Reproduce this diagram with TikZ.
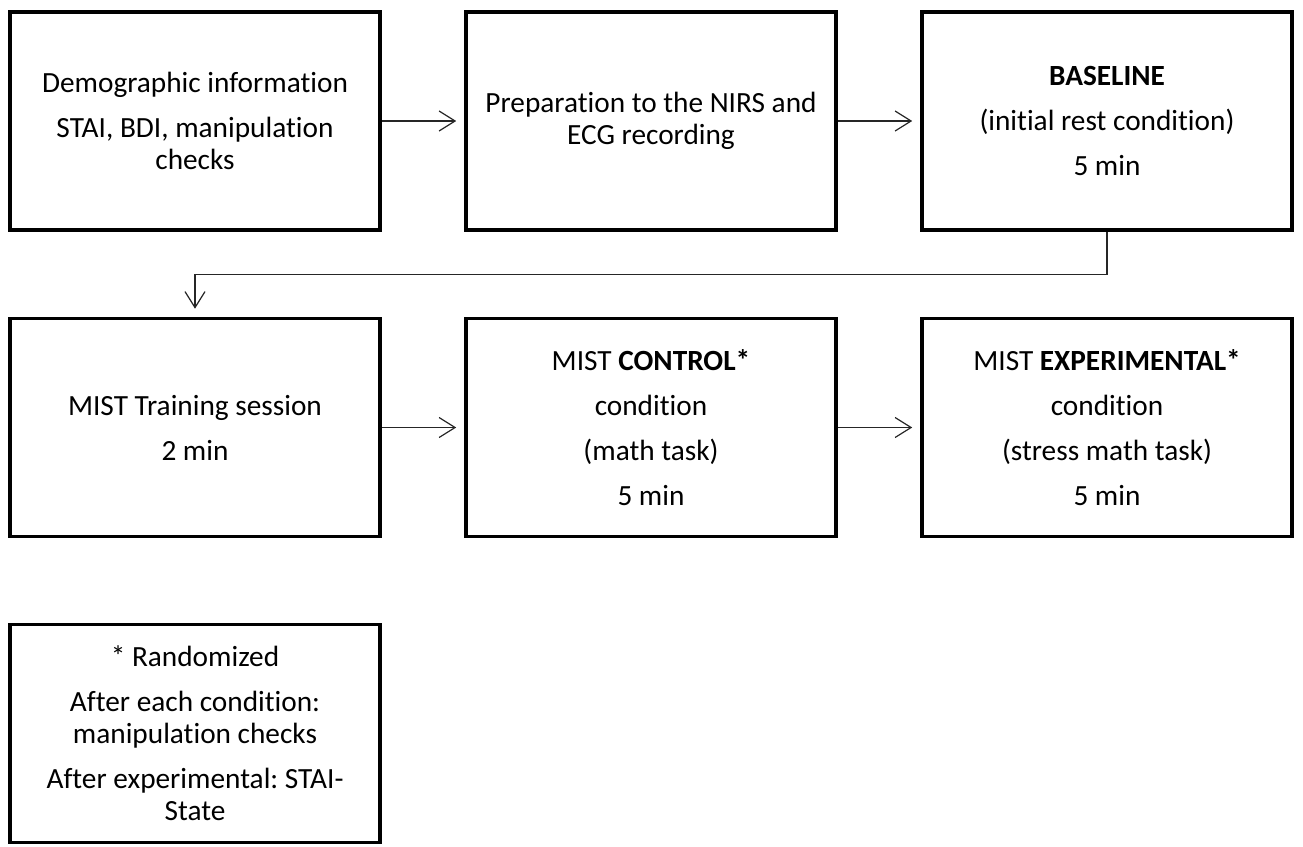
\documentclass[tikz,border=0pt]{standalone}
\usepackage{fontspec}
\setmainfont{Carlito}[Ligatures={NoCommon}]
\frenchspacing
\usetikzlibrary{arrows.meta}
\begin{document}
\begin{tikzpicture}[x=1pt,y=-1pt,
  stepbox/.style={draw, line width=3.6pt, minimum width=370pt, minimum height=218pt,
    align=center, inner sep=0pt, font=\fontsize{29.3}{32}\selectfont},
  flow/.style={line width=1.2pt, draw=black!85,
    -{Straight Barb[length=16pt,width=20pt,line width=1.2pt]}, shorten >=8pt}]
\useasboundingbox (0,0) rectangle (1303,846);
\node[stepbox] (demo) at (195,121) {Demographic information\\[13pt]STAI, BDI, manipulation\\checks};
\node[stepbox] (prep) at (651,121) {Preparation to the NIRS and\\ECG recording};
\node[stepbox] (base) at (1107,121) {\textbf{BASELINE}\\[13pt](initial rest condition)\\[13pt]5 min};
\node[stepbox] (train) at (195,427.5) {MIST Training session\\[13pt]2 min};
\node[stepbox] (ctrl) at (651,427.5) {MIST \textbf{CONTROL*}\\[13pt]condition\\[13pt](math task)\\[13pt]5 min};
\node[stepbox] (expm) at (1107,427.5) {MIST \textbf{EXPERIMENTAL*}\\[13pt]condition\\[13pt](stress math task)\\[13pt]5 min};
\node[stepbox] (note) at (195,733.5) {* Randomized\\[13pt]After each condition:\\manipulation checks\\[13pt]After experimental: STAI-\\State};
\draw[flow] (demo.east) -- (prep.west);
\draw[flow] (prep.east) -- (base.west);
\draw[flow] (train.east) -- (ctrl.west);
\draw[flow] (ctrl.east) -- (expm.west);
\draw[flow] (base.south) -- ++(0,43) -| (train.north);
\end{tikzpicture}
\end{document}
